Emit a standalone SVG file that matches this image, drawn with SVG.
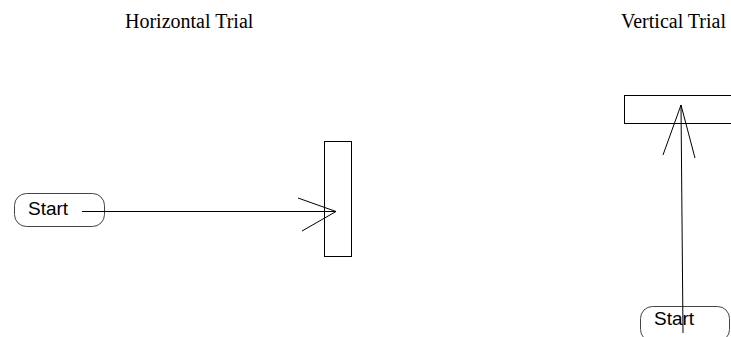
<svg xmlns="http://www.w3.org/2000/svg" width="731" height="337" viewBox="0 0 731 337">
<style>
.title{font-family:"Liberation Serif",serif;font-size:20px;fill:#000}
.lbl{font-family:"Liberation Sans",Arial,sans-serif;font-size:19px;fill:#000}
.pill{fill:#fff;stroke:#444;stroke-width:1}
.box{fill:#fff;stroke:#000;stroke-width:1}
.ln{fill:none;stroke:#000;stroke-width:1}
</style>
<rect width="731" height="337" fill="#fff"/>
<text class="title" x="125" y="28">Horizontal Trial</text>
<text class="title" x="621" y="28">Vertical Trial</text>
<g id="h-start"><rect class="pill" x="14.5" y="193.5" width="90" height="33" rx="12"/><text class="lbl" x="28" y="215">Start</text></g>
<g id="h-target"><rect class="box" x="324.5" y="141.5" width="27" height="115"/></g>
<g id="v-target"><rect class="box" x="624.5" y="95.5" width="120" height="28"/></g>
<g id="v-start"><rect class="pill" x="640.5" y="306.5" width="89" height="35" rx="12"/><text class="lbl" x="654" y="325">Start</text></g>
<g id="connectors">
<path class="ln" d="M82 211.5H336M298 198L336 211.5L302 231"/>
<path class="ln" d="M683 333L681 105M663 155L681 105L695 158"/>
</g>
</svg>
